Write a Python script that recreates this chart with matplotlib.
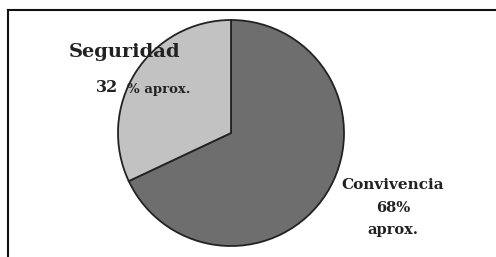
import matplotlib
matplotlib.use("Agg")
import matplotlib.pyplot as plt

# data
labels = ["Convivencia", "Seguridad"]
values = [68, 32]
colors = ["#6e6e6e", "#c2c2c2"]

W, H = 496, 257
fig = plt.figure(figsize=(W / 100, H / 100), dpi=100)
ax = fig.add_axes([0, 0, 1, 1])

ax.pie(values, colors=colors, startangle=90, counterclock=False,
       center=(231, H - 133), radius=113, frame=True,
       wedgeprops=dict(edgecolor="#222222", linewidth=1.3))
ax.set_xlim(0, W)
ax.set_ylim(0, H)
ax.set_aspect("equal")
ax.axis("off")

# frame lines (left and top)
ax.plot([8, 8], [0, H - 10], color="#111111", lw=1.5)
ax.plot([8, W], [H - 10, H - 10], color="#111111", lw=1.5)

font = dict(family="DejaVu Serif", weight="bold", color="#222222")
ax.text(69, H - 52, labels[1], fontsize=14, ha="left", va="center", **font)
ax.text(96, H - 88, f"{values[1]}", fontsize=11.5, ha="left", va="center", **font)
ax.text(127, H - 89, "% aprox.", fontsize=9.5, ha="left", va="center", **font)

ax.text(393, H - 185, labels[0], fontsize=11, ha="center", va="center", **font)
ax.text(393, H - 208, f"{values[0]}%", fontsize=10.5, ha="center", va="center", **font)
ax.text(393, H - 230, "aprox.", fontsize=10.5, ha="center", va="center", **font)

fig.savefig("out.png", dpi=100)
